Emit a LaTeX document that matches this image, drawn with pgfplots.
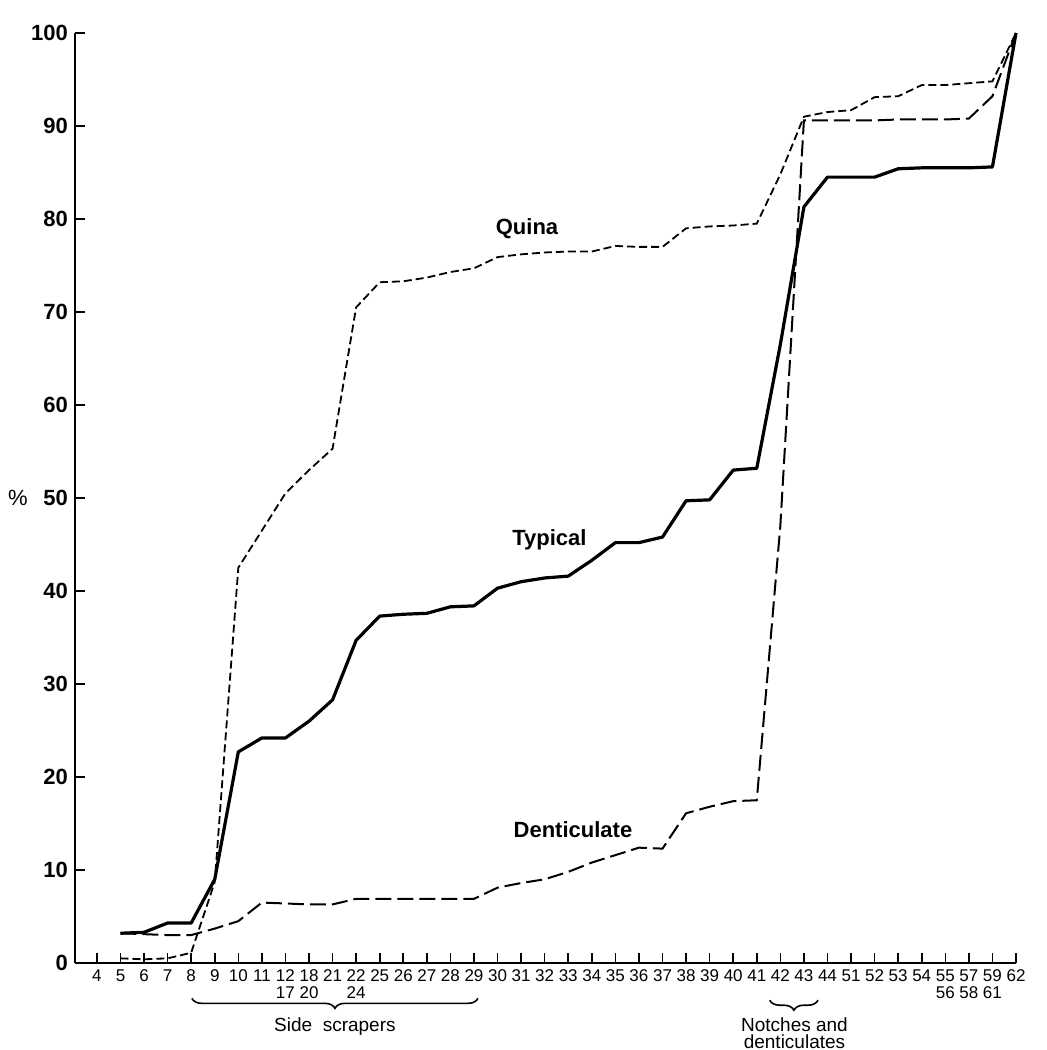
\documentclass[border=0pt]{standalone}
\usepackage{fontspec}
\setmainfont{Liberation Sans}
\usepackage{pgfplots}
\usepackage{pgfplotstable}
\pgfplotsset{compat=1.18}
\usetikzlibrary{decorations.pathreplacing}

\pgfplotstableread{
idx typ
1 3.2
2 3.3
3 4.3
4 4.3
5 9.0
6 22.7
7 24.2
8 24.2
9 26.0
10 28.3
11 34.7
12 37.3
13 37.5
14 37.6
15 38.3
16 38.4
17 40.3
18 41.0
19 41.4
20 41.6
21 43.3
22 45.2
23 45.2
24 45.8
25 49.7
26 49.8
27 53.0
28 53.2
29 66.5
30 81.3
31 84.5
32 84.5
33 84.5
34 85.4
35 85.5
36 85.5
37 85.5
38 85.6
39 100
}\typical

\pgfplotstableread{
idx qui
1 0.5
2 0.4
3 0.5
4 1.1
5 8.7
6 42.5
7 46.5
8 50.5
9 53.0
10 55.3
11 70.5
12 73.2
13 73.3
14 73.7
15 74.3
16 74.7
17 75.9
18 76.2
19 76.4
20 76.5
21 76.5
22 77.1
23 77.0
24 77.0
25 79.0
26 79.2
27 79.3
28 79.5
29 84.8
30 91.0
31 91.5
32 91.7
33 93.1
34 93.2
35 94.4
36 94.4
37 94.6
38 94.8
39 100
}\quina

\pgfplotstableread{
idx den
1 3.2
2 3.1
3 3.0
4 3.0
5 3.7
6 4.5
7 6.5
8 6.4
9 6.3
10 6.3
11 6.9
12 6.9
13 6.9
14 6.9
15 6.9
16 6.9
17 8.1
18 8.6
19 9.0
20 9.8
21 10.8
22 11.6
23 12.4
24 12.3
25 16.1
26 16.8
27 17.4
28 17.5
29 47.0
30 90.6
31 90.6
32 90.6
33 90.6
34 90.7
35 90.7
36 90.7
37 90.8
38 93.2
39 100
}\dent

\begin{document}
\begin{tikzpicture}
\path[use as bounding box] (-37.5pt,-43.5pt) rectangle (486pt,481.5pt);
\begin{axis}[
  at={(0,0)}, anchor=south west,
  scale only axis, width=470.5pt, height=465pt,
  xmin=-0.93, xmax=39, ymin=0, ymax=100,
  axis x line*=bottom, axis y line*=left,
  axis line style={line width=1pt, -},
  xtick={0,...,39},
  xticklabels={4,5,6,7,8,9,10,11,{12\\17},{18\\20},21,{22\\24},25,26,27,28,29,30,31,32,33,34,35,36,37,38,39,40,41,42,43,44,51,52,53,54,{55\\56},{57\\58},{59\\61},62},
  ytick={0,10,...,100},
  tick align=inside,
  major tick length=5pt,
  tick style={line width=0.8pt, black},
  xticklabel style={font=\fontsize{8.5}{8.5}\selectfont, align=center, inner sep=1pt, yshift=-2pt},
  yticklabel style={font=\fontsize{11}{13}\selectfont\bfseries},
  /pgf/number format/assume math mode=true,
  clip=false,
]
\addplot[black, line width=1.6pt, line join=round] table[x=idx, y=typ] {\typical};
\addplot[black, line width=0.9pt, dash pattern=on 4pt off 2pt] table[x=idx, y=qui] {\quina};
\addplot[black, line width=1pt, dash pattern=on 8pt off 3pt] table[x=idx, y=den] {\dent};

\node[font=\fontsize{11}{13}\selectfont\bfseries] at (axis cs:18.25,79.0) {Quina};
\node[font=\fontsize{11}{13}\selectfont\bfseries] at (axis cs:19.2,45.5) {Typical};
\node[font=\fontsize{11}{13}\selectfont\bfseries] at (axis cs:20.2,14.3) {Denticulate};
\node[font=\fontsize{11}{13}\selectfont] at (axis cs:-3.35,50) {\%};

\draw[decorate, decoration={brace, mirror, amplitude=5pt}, line width=0.8pt] (axis cs:4.03,-3.8) -- (axis cs:16.17,-3.8);
\node[font=\fontsize{9.5}{11}\selectfont] at (axis cs:10.1,-6.8) {Side\ \ scrapers};
\draw[decorate, decoration={brace, mirror, amplitude=5pt}, line width=0.8pt] (axis cs:28.55,-4.0) -- (axis cs:30.6,-4.0);
\node[font=\fontsize{9.5}{8.5}\selectfont, align=center] at (axis cs:29.6,-7.5) {Notches and\\denticulates};
\end{axis}
\end{tikzpicture}
\end{document}
